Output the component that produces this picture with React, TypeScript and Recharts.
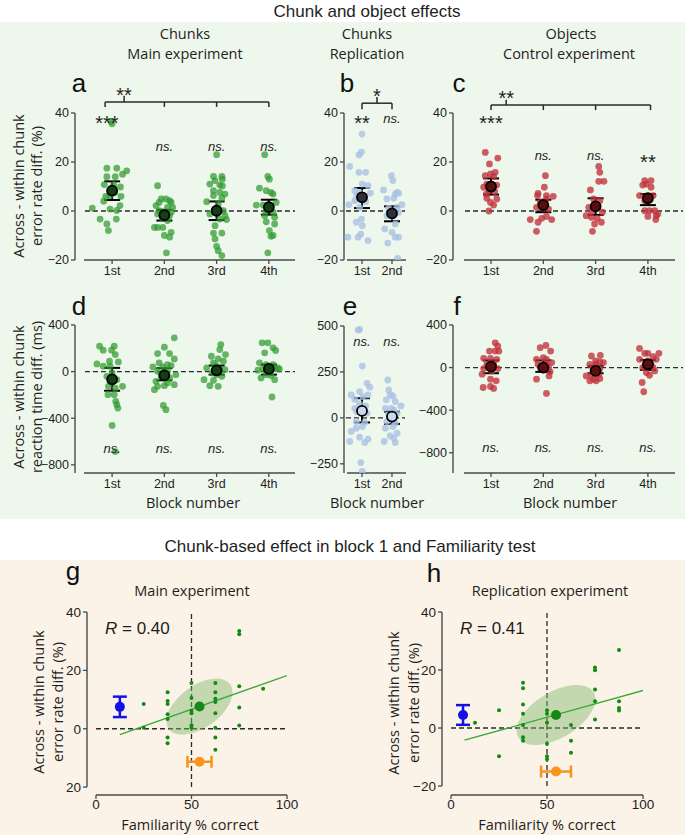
import React from 'react';
import { ScatterChart, Scatter, XAxis, YAxis, ReferenceLine, ErrorBar } from 'recharts';

type P = [number, number];
type Note = { x: number; y: number; text: string };

// ---------- categories ----------
const blocks4 = ['1st', '2nd', '3rd', '4th'];
const blocks2 = ['1st', '2nd'];

// ---------- panel a : error rate, chunks main (jitter, value) ----------
const a1: P[] = [[-0.02,36.5],[0.0,35.6],[-0.38,1.2],[-0.1,17.5],[0.09,17.5],[0.28,16.4],[0.2,15.0],[-0.1,14.0],[0.06,14.0],[-0.15,10.8],[0.03,10.8],[0.16,9.8],[-0.04,8.2],[0.05,7.6],[-0.04,6.2],[-0.12,6.0],[0.17,6.0],[-0.16,4.0],[0.15,2.2],[-0.04,0.8],[0.09,0.2],[-0.23,-3.3],[0.08,-3.3],[-0.1,-5.3],[-0.07,-8.0]];
const a2: P[] = [[-0.13,10.3],[-0.06,4.9],[0.03,4.9],[0.1,4.2],[-0.1,3.5],[0.13,3.5],[-0.16,2.2],[0.06,1.5],[-0.1,0.1],[0,-0.5],[-0.13,-1.2],[0.1,-1.9],[0.13,-0.5],[-0.03,-3.0],[0.06,-3.9],[-0.13,-6.7],[-0.03,-6.7],[0.13,-8.7],[0,-10.0],[0.1,-10.7],[0.04,-17.1],[-0.19,-6.7],[0.16,1.5]];
const a3: P[] = [[0,23.0],[-0.06,14.1],[0.1,14.1],[0.11,13.0],[-0.03,12.4],[-0.13,11.0],[0.06,10.6],[0.11,10.2],[-0.06,8.3],[0.06,7.6],[0.16,6.9],[-0.06,6.3],[0.1,5.2],[-0.19,3.8],[0.03,2.9],[-0.03,0.8],[0.13,0.1],[-0.13,-1.2],[0.16,-1.9],[0.06,-3.3],[0.19,-3.5],[-0.03,-6.0],[-0.06,-9.0],[0.1,-9.0],[-0.03,-11.4],[0,-14.4],[0.03,-16.2],[0.1,-18.2],[0,-21]];
const a4: P[] = [[-0.08,23.0],[-0.02,14.1],[0.01,13.0],[-0.18,9.3],[-0.05,8.3],[0.04,7.6],[0.08,6.9],[-0.24,2.4],[-0.11,2.4],[-0.02,1.5],[0.04,2.2],[0.14,3.5],[-0.05,0.1],[0.08,-0.5],[-0.08,-1.9],[0.11,-2.6],[-0.05,-4.4],[0.11,-5.3],[0.01,-8.0],[0.08,-10.0],[0.04,-10.3],[-0.02,-17.1]];
const aMean = [8.3, -1.7, 0.1, 1.6];
const aLo = [4.5, -3.9, -3.7, -1.5];
const aHi = [12.1, 0.5, 3.9, 4.6];
const aNotes: Note[] = [{x:0.9,y:37.6,text:'***'},{x:1.23,y:49.1,text:'**'},{x:2,y:26.4,text:'ns.'},{x:3,y:26.4,text:'ns.'},{x:4,y:26.4,text:'ns.'}];
const aBrackets: number[][] = [[0.866,44.5,4,44.5],[0.866,44.5,0.866,42.5],[2,44.5,2,42.5],[3,44.5,3,42.5],[4,44.5,4,42.5],[1.23,44.5,1.23,47]];

// ---------- panel b : error rate, chunks replication ----------
const b1: P[] = [[0,31.4],[-0.02,24.0],[-0.1,22.9],[-0.41,18.2],[-0.1,15.8],[0.12,15.8],[0.01,11.0],[0.2,10.3],[-0.24,8.3],[-0.08,7.6],[0.28,7.3],[-0.17,6.3],[0.09,6.0],[-0.24,4.2],[0.12,3.8],[-0.44,2.6],[-0.08,1.5],[-0.02,-3.3],[-0.19,-4.6],[0.01,-6.0],[-0.47,-10.7],[-0.13,-10.7],[0.2,-12.1],[-0.04,-9.4]];
const b2: P[] = [[-0.02,14.4],[0.03,12.4],[0.17,7.6],[0.22,7.2],[0.11,6.9],[-0.28,8.6],[-0.17,4.9],[0.06,5.2],[0.33,2.6],[-0.11,1.1],[0.17,1.5],[0.22,-0.5],[-0.17,-1.9],[0.03,-2.2],[0.11,-5.3],[-0.24,-7.3],[0,-8.7],[0.11,-10.7],[0.22,-10.7],[-0.14,-13.1],[0.19,-19.3]];
const bMean = [5.6, -1.0];
const bLo = [1.2, -4.2];
const bHi = [9.4, 1.9];
const bNotes: Note[] = [{x:1,y:37.6,text:'**'},{x:2,y:37.6,text:'ns.'},{x:1.5,y:48.6,text:'*'}];
const bBrackets: number[][] = [[1,44,2,44],[1,44,1,41.5],[2,44,2,41.5],[1.5,44,1.5,46.5]];

// ---------- panel c : error rate, objects control ----------
const c1: P[] = [[-0.11,23.9],[0.13,21.6],[-0.03,19.2],[0.08,15.8],[-0.01,15.1],[-0.11,14.4],[0.05,14.1],[-0.08,11.0],[0.11,10.6],[-0.14,9.7],[0.02,9.0],[-0.04,8.3],[0.07,7.9],[-0.09,6.9],[0.11,4.9],[-0.08,5.2],[-0.01,3.5],[0.05,2.4],[-0.04,0.0]];
const c2: P[] = [[0.04,14.4],[0.02,9.7],[-0.1,7.2],[0.06,6.3],[-0.11,6.3],[0.19,6.0],[0.06,4.9],[-0.06,3.5],[0.03,2.4],[-0.13,1.5],[0,1.1],[0.1,0.8],[-0.25,-3.5],[-0.03,-3.0],[-0.1,-4.6],[0.06,-2.2],[0.16,-3.5],[-0.13,-8.3]];
const c3: P[] = [[0.06,18.2],[0.08,15.8],[0.06,12.1],[0.16,12.1],[-0.1,8.6],[-0.04,4.9],[0.08,4.2],[0.01,2.2],[-0.13,1.5],[0.13,-0.5],[-0.08,-0.3],[-0.18,-1.9],[-0.08,-2.6],[0.03,-3.0],[0.11,-4.6],[-0.02,-5.3],[-0.06,-8.3]];
const c4: P[] = [[-0.06,12.4],[0.06,12.4],[-0.03,11.0],[-0.1,10.6],[0.06,9.7],[-0.16,6.3],[-0.03,5.2],[0.1,6.3],[-0.06,4.2],[0,4.9],[0.13,0.1],[0.03,0.1],[-0.06,0.1],[0.19,-1.2],[0.16,-1.9],[0,-2.2],[0.15,-3.5]];
const cMean = [10.0, 2.4, 1.9, 5.2];
const cLo = [6.7, -0.5, -1.6, 2.4];
const cHi = [13.3, 4.6, 5.2, 6.9];
const cNotes: Note[] = [{x:1,y:37.6,text:'***'},{x:1.29,y:47.8,text:'**'},{x:2,y:22.6,text:'ns.'},{x:3,y:22.6,text:'ns.'},{x:4,y:22,text:'**'}];
const cBrackets: number[][] = [[1,43.3,4.05,43.3],[1,43.3,1,41.2],[2,43.3,2,41.2],[3,43.3,3,41.2],[4.05,43.3,4.05,41.2],[1.29,43.3,1.29,45.4]];

// ---------- panel d : reaction time, chunks main ----------
const d1: P[] = [[-0.24,218],[0.04,218],[-0.17,184],[-0.01,184],[0.06,146],[-0.29,66],[-0.17,46],[-0.04,46],[0.12,83],[-0.05,89],[0,-11],[-0.1,-40],[0.09,-69],[0.03,-83],[-0.07,-126],[0.06,-141],[0.2,-126],[-0.08,-198],[0.04,-198],[0.07,-255],[0.09,-284],[0.11,-313],[0,-462],[0.06,-686]];
const d2: P[] = [[0.19,290],[0,210],[-0.13,155],[0.1,155],[0.19,109],[-0.1,75],[0.06,60],[-0.22,40],[-0.03,40],[0.13,52],[-0.13,3],[0.06,3],[0.22,-26],[-0.06,-40],[0.1,-55],[-0.16,-83],[0.06,-98],[0.19,-112],[-0.13,-126],[0,-121],[-0.19,-155],[-0.02,-290],[0.03,-327]];
const d3: P[] = [[0.08,232],[0.06,189],[0.17,146],[-0.1,132],[0.03,109],[0.13,89],[-0.06,75],[-0.01,52],[-0.19,32],[0.06,23],[0.16,17],[-0.08,-11],[0,-26],[0.1,-40],[-0.24,-69],[-0.06,-75],[-0.13,-121],[0.03,-126]];
const d4: P[] = [[-0.13,247],[-0.02,247],[0.08,204],[0.13,181],[-0.08,161],[-0.18,75],[-0.05,60],[0.08,60],[0.17,32],[-0.21,12],[-0.11,23],[0.01,3],[0.11,23],[-0.05,-26],[0.04,-34],[0.2,23],[-0.15,-55],[0.11,-69],[0.06,-218]];
const dMean = [-66, -32, 11, 23];
const dLo = [-164, -75, -26, -26];
const dHi = [32, 29, 52, 60];
const dNotes: Note[] = [1,2,3,4].map((x) => ({ x, y: -665, text: 'ns.' }));

// ---------- panel e : reaction time, chunks replication ----------
const e1: P[] = [[-0.13,478],[-0.08,481],[0.01,282],[0.17,188],[0.26,167],[-0.08,143],[-0.36,125],[0.2,125],[-0.24,101],[0.03,116],[-0.08,76],[0.12,65],[-0.24,52],[-0.17,34],[0.17,25],[-0.19,-20],[0.09,-25],[0.01,-47],[-0.19,-56],[-0.36,-74],[0.2,-116],[-0.08,-105],[-0.41,-128],[0.09,-134],[-0.04,-243],[0.01,-291]];
const e2: P[] = [[-0.14,206],[-0.11,152],[-0.06,125],[0.03,119],[-0.19,98],[0.11,89],[0.3,65],[-0.22,52],[0.06,43],[-0.03,52],[0.17,25],[-0.11,16],[-0.17,-20],[0.11,-29],[0.03,-47],[-0.22,-56],[0.17,-83],[-0.06,-98],[0.06,-110],[-0.26,-128],[0.11,-134]];
const eMean = [38, 7];
const eLo = [-25, -33];
const eHi = [107, 34];
const eNotes: Note[] = [1,2].map((x) => ({ x, y: 415, text: 'ns.' }));

// ---------- panel f : reaction time, objects control ----------
const f1: P[] = [[0.08,233],[0.13,202],[-0.03,155],[0.08,155],[0.15,155],[-0.14,87],[-0.01,87],[0.11,78],[-0.08,31],[0.05,31],[-0.03,9],[-0.14,-9],[0.13,-9],[0.02,-31],[-0.17,-62],[-0.01,-109],[0.1,-124],[-0.15,-187],[-0.01,-177],[0.05,-196]];
const f2: P[] = [[0.05,208],[-0.06,187],[0.14,155],[0,93],[-0.13,78],[0.06,78],[-0.1,31],[0.06,31],[0.16,47],[-0.06,9],[0.1,0],[0,-22],[0.13,-40],[-0.13,-109],[0.11,-78],[0.06,-243]];
const f3: P[] = [[-0.08,109],[0.09,115],[0,62],[0.08,53],[-0.11,31],[0.01,31],[0.15,47],[-0.05,0],[0.08,-9],[-0.18,-78],[-0.08,-72],[0.06,-62],[-0.04,-109],[0.08,-103],[-0.11,-124],[0.01,-124]];
const f4: P[] = [[-0.16,180],[0,134],[-0.06,134],[0.21,134],[0.1,103],[-0.16,78],[0,62],[0.16,78],[0.06,31],[-0.03,22],[-0.1,0],[0.1,0],[0.13,-31],[-0.03,-47],[0.03,-72],[-0.11,-140],[-0.08,-227]];
const fMean = [9, 0, -31, 31];
const fLo = [-53, -40, -53, -22];
const fHi = [68, 68, 16, 72];
const fNotes: Note[] = [1,2,3,4].map((x) => ({ x, y: -754, text: 'ns.' }));

// ---------- panel g : familiarity vs chunk effect, main ----------
const gPoints: P[] = [[25,8.5],[25,0.3],[37.5,12.5],[37.5,9.5],[37.5,8.5],[37.5,5],[37.5,3.3],[37.5,-3],[37.5,-5],[50,15.7],[50,10.5],[50,6.2],[50,5.3],[50,1.2],[50,0.3],[62.5,15.7],[62.5,12.5],[62.5,10.3],[62.5,9.2],[62.5,5.3],[62.5,0.3],[62.5,-3],[62.5,-7.2],[75,33.5],[75,32.4],[75,14.6],[75,7.3],[75,1.1],[87.5,13.7]];
const gMean: P = [54.2, 7.6];
const gFit: P[] = [[12.5, -2.0], [100, 18.2]];
const gChunkMean = { x: 12.5, y: 7.5, err: 3.5 };
const gFamMean = { x: 54.2, y: -11.3, err: 6.3 };
const gYTicks = [-20, 0, 20, 40];
const gYTickLabels = ['20', '0', '20', '40'];
const gR = '0.40';

// ---------- panel h : familiarity vs chunk effect, replication ----------
const hPoints: P[] = [[12.5,1.8],[25,6.1],[25,-9.7],[37.5,15.6],[37.5,13.7],[37.5,8.1],[37.5,4.9],[37.5,1.0],[37.5,-3.2],[37.5,-4.4],[50,6.1],[50,4.9],[50,1.8],[50,-5.4],[50,-9.7],[50,-10.8],[62.5,1.0],[62.5,-4.4],[62.5,-8.5],[75,20.9],[75,19.9],[75,13.3],[75,9.2],[75,2.9],[87.5,26.9],[87.5,9.2],[87.5,6.9],[87.5,6.0]];
const hMean: P = [54.7, 4.5];
const hFit: P[] = [[7, -4.2], [101, 13.1]];
const hChunkMean = { x: 6.25, y: 4.5, err: 3.4 };
const hFamMean = { x: 54.7, y: -15, err: 7.8 };
const hYTicks = [-20, 0, 20, 40];
const hYTickLabels = ['\u221220', '0', '20', '40'];
const hR = '0.41';

const xTicksFam = [0, 50, 100];

// ---------- styling ----------
const ARIAL = '"Liberation Sans", Arial, Helvetica, sans-serif';
const SANS = '"Open Sans", "Noto Sans", sans-serif';
const AXIS = '#4a4a4a';
const INK = '#1e1e1e';
const minus = (v: number) => String(v).replace('-', '\u2212');

interface StripCfg {
  box: number[];
  plot: number[];
  xDomain: [number, number];
  yDomain: [number, number];
  yTicks: number[];
  yAxisTop: number;
  xAxis: [number, number];
  dash: [number, number];
  cats: string[];
  groups: P[][];
  means: number[];
  lo: number[];
  hi: number[];
  dot: string;
  dotOpacity: number;
  meanFill: string;
  notes: Note[];
  brackets: number[][];
}

const NoteShape = (p: any) => {
  const t: string = p.payload.text;
  const star = t.includes('*');
  return (
    <text x={p.cx} y={p.cy + (star ? 11.5 : 4.3)} textAnchor="middle" fontSize={star ? 20 : 13}
      fontStyle={star ? 'normal' : 'italic'} fontFamily={ARIAL} fill={INK}>{t}</text>
  );
};

function StripPanel({ c }: { c: StripCfg }) {
  const [bx0, by0, bx1, by1] = c.box;
  const [px0, py0, px1, py1] = c.plot;
  const xh = 22;
  const pts = c.groups.flatMap((g, i) => g.map(([j, v]) => ({ x: i + 1 + j, y: v })));
  const md = c.means.map((m, i) => ({ x: i + 1, y: m, err: [m - c.lo[i], c.hi[i] - m] }));
  const dotShape = (p: any) => <circle cx={p.cx} cy={p.cy} r={3.4} fill={c.dot} fillOpacity={c.dotOpacity} />;
  const meanShape = (p: any) => <circle cx={p.cx} cy={p.cy} r={5} fill={c.meanFill} stroke="#000" strokeWidth={1.8} />;
  return (
    <div style={{ position: 'absolute', left: bx0, top: by0 }}>
      <ScatterChart width={bx1 - bx0} height={by1 - by0}
        margin={{ top: py0 - by0, right: bx1 - px1, bottom: by1 - py1 - xh, left: 0 }}>
        <XAxis type="number" dataKey="x" domain={c.xDomain} allowDataOverflow
          ticks={c.cats.map((_, i) => i + 1)} interval={0} tickFormatter={(v: number) => c.cats[Math.round(v) - 1]}
          axisLine={false} tickLine={{ stroke: AXIS, strokeWidth: 1.3 }} tickSize={4} height={xh}
          tick={{ fill: INK, fontSize: 12.5, fontFamily: ARIAL }} />
        <YAxis type="number" dataKey="y" domain={c.yDomain} allowDataOverflow ticks={c.yTicks} interval={0}
          tickFormatter={minus} axisLine={false} tickLine={{ stroke: AXIS, strokeWidth: 1.3 }} tickSize={4}
          width={px0 - bx0} tick={{ fill: INK, fontSize: 12.5, fontFamily: ARIAL }} />
        <ReferenceLine ifOverflow="visible" stroke={AXIS} strokeWidth={1.4}
          segment={[{ x: c.xDomain[0], y: c.yDomain[0] }, { x: c.xDomain[0], y: c.yAxisTop }]} />
        <ReferenceLine ifOverflow="visible" stroke={AXIS} strokeWidth={1.4}
          segment={[{ x: c.xAxis[0], y: c.yDomain[0] }, { x: c.xAxis[1], y: c.yDomain[0] }]} />
        <ReferenceLine ifOverflow="visible" stroke="#2a2a2a" strokeWidth={1.4} strokeDasharray="5 3"
          segment={[{ x: c.dash[0], y: 0 }, { x: c.dash[1], y: 0 }]} />
        {c.brackets.map((b, i) => (
          <ReferenceLine key={'br' + i} ifOverflow="visible" stroke="#2a2a2a" strokeWidth={1.5}
            segment={[{ x: b[0], y: b[1] }, { x: b[2], y: b[3] }]} />
        ))}
        <Scatter data={pts} shape={dotShape} isAnimationActive={false} />
        <Scatter data={md} shape={meanShape} isAnimationActive={false}>
          <ErrorBar dataKey="err" direction="y" width={8} stroke="#000" strokeWidth={2} />
        </Scatter>
        <Scatter data={c.notes} shape={NoteShape} isAnimationActive={false} />
      </ScatterChart>
    </div>
  );
}

interface FamCfg {
  box: number[];
  plot: number[];
  xDomain: [number, number];
  yDomain: [number, number];
  yTicks: number[];
  yTickLabels: string[];
  points: P[];
  mean: P;
  fit: P[];
  chunk: { x: number; y: number; err: number };
  fam: { x: number; y: number; err: number };
  ell: [number, number, number];
}

function FamPanel({ c }: { c: FamCfg }) {
  const [bx0, by0, bx1, by1] = c.box;
  const [px0, py0, px1, py1] = c.plot;
  const xh = 20;
  const pts = c.points.map(([x, y]) => ({ x, y }));
  const [rx, ry, ang] = c.ell;
  const ellShape = (p: any) => (
    <ellipse cx={p.cx} cy={p.cy} rx={rx} ry={ry} transform={`rotate(${ang} ${p.cx} ${p.cy})`} fill="#7fb86a" fillOpacity={0.45} />
  );
  const none = () => <g />;
  const small = (p: any) => <circle cx={p.cx} cy={p.cy} r={2} fill="#138a13" />;
  const big = (col: string) => (p: any) => <circle cx={p.cx} cy={p.cy} r={5} fill={col} />;
  const tickLbl = (v: number) => c.yTickLabels[c.yTicks.indexOf(v)] ?? String(v);
  return (
    <div style={{ position: 'absolute', left: bx0, top: by0 }}>
      <ScatterChart width={bx1 - bx0} height={by1 - by0}
        margin={{ top: py0 - by0, right: bx1 - px1, bottom: by1 - py1 - xh, left: 0 }}>
        <XAxis type="number" dataKey="x" domain={c.xDomain} allowDataOverflow ticks={xTicksFam} interval={0}
          axisLine={false} tickLine={{ stroke: AXIS, strokeWidth: 1.3 }} tickSize={4} tickMargin={0} height={xh}
          tick={{ fill: INK, fontSize: 13.5, fontFamily: ARIAL }} />
        <YAxis type="number" dataKey="y" domain={c.yDomain} allowDataOverflow ticks={c.yTicks} interval={0}
          tickFormatter={tickLbl} axisLine={false} tickLine={{ stroke: AXIS, strokeWidth: 1.3 }} tickSize={4}
          width={px0 - bx0} tick={{ fill: INK, fontSize: 13.5, fontFamily: ARIAL }} />
        <ReferenceLine ifOverflow="visible" stroke={AXIS} strokeWidth={1.4}
          segment={[{ x: c.xDomain[0], y: -20 }, { x: c.xDomain[0], y: 40 }]} />
        <ReferenceLine ifOverflow="visible" stroke={AXIS} strokeWidth={1.4}
          segment={[{ x: 0, y: c.yDomain[0] }, { x: 100, y: c.yDomain[0] }]} />
        <ReferenceLine ifOverflow="visible" stroke="#2a2a2a" strokeWidth={1.3} strokeDasharray="5 3"
          segment={[{ x: 50, y: -20 }, { x: 50, y: 40 }]} />
        <ReferenceLine ifOverflow="visible" stroke="#2a2a2a" strokeWidth={1.3} strokeDasharray="5 3"
          segment={[{ x: 0, y: 0 }, { x: 100, y: 0 }]} />
        <Scatter data={[{ x: c.mean[0], y: c.mean[1] }]} shape={ellShape} isAnimationActive={false} />
        <Scatter data={c.fit.map(([x, y]) => ({ x, y }))} shape={none} line={{ stroke: '#3aa83a', strokeWidth: 1.3 }} isAnimationActive={false} />
        <Scatter data={pts} shape={small} isAnimationActive={false} />
        <Scatter data={[{ x: c.mean[0], y: c.mean[1] }]} shape={big('#138a13')} isAnimationActive={false} />
        <Scatter data={[c.chunk]} shape={big('#1212e6')} isAnimationActive={false}>
          <ErrorBar dataKey="err" direction="y" width={7} stroke="#1212e6" strokeWidth={2.5} />
        </Scatter>
        <Scatter data={[c.fam]} shape={big('#f7931e')} isAnimationActive={false}>
          <ErrorBar dataKey="err" direction="x" width={6} stroke="#f7931e" strokeWidth={2.5} />
        </Scatter>
      </ScatterChart>
    </div>
  );
}

const panelA: StripCfg = {
  box: [35, 78, 300, 290], plot: [75, 83.6, 295, 260], xDomain: [0.29, 4.5], yDomain: [-20, 52],
  yTicks: [-20, 0, 20, 40], yAxisTop: 40, xAxis: [0.462, 4.5], dash: [0.48, 4.5], cats: blocks4,
  groups: [a1, a2, a3, a4], means: aMean, lo: aLo, hi: aHi, dot: '#2f9a2f', dotOpacity: 0.72,
  meanFill: '#143f14', notes: aNotes, brackets: aBrackets,
};
const panelB: StripCfg = {
  box: [305, 78, 412, 290], plot: [344, 83.6, 406, 260], xDomain: [0.4, 2.467], yDomain: [-20, 52],
  yTicks: [-20, 0, 20, 40], yAxisTop: 40, xAxis: [0.5, 2.467], dash: [0.467, 2.433], cats: blocks2,
  groups: [b1, b2], means: bMean, lo: bLo, hi: bHi, dot: '#a9c2e3', dotOpacity: 0.78,
  meanFill: '#2e3238', notes: bNotes, brackets: bBrackets,
};
const panelC: StripCfg = {
  box: [413, 78, 685, 290], plot: [453, 83.6, 683, 260], xDomain: [0.273, 4.671], yDomain: [-20, 52],
  yTicks: [-20, 0, 20, 40], yAxisTop: 40, xAxis: [0.483, 4.518], dash: [0.503, 4.671], cats: blocks4,
  groups: [c1, c2, c3, c4], means: cMean, lo: cLo, hi: cHi, dot: '#c2323b', dotOpacity: 0.78,
  meanFill: '#5a0e0e', notes: cNotes, brackets: cBrackets,
};
const panelD: StripCfg = {
  box: [35, 320, 300, 495], plot: [75, 325, 295, 473], xDomain: [0.29, 4.5], yDomain: [-870, 400],
  yTicks: [-800, -400, 0, 400], yAxisTop: 400, xAxis: [0.462, 4.5], dash: [0.48, 4.5], cats: blocks4,
  groups: [d1, d2, d3, d4], means: dMean, lo: dLo, hi: dHi, dot: '#2f9a2f', dotOpacity: 0.72,
  meanFill: '#143f14', notes: dNotes, brackets: [],
};
const panelE: StripCfg = {
  box: [305, 320, 412, 495], plot: [344, 326, 406, 473], xDomain: [0.4, 2.467], yDomain: [-300, 500],
  yTicks: [-250, 0, 250, 500], yAxisTop: 500, xAxis: [0.5, 2.467], dash: [0.467, 2.433], cats: blocks2,
  groups: [e1, e2], means: eMean, lo: eLo, hi: eHi, dot: '#a9c2e3', dotOpacity: 0.78,
  meanFill: '#c9d8ec', notes: eNotes, brackets: [],
};
const panelF: StripCfg = {
  box: [413, 320, 685, 495], plot: [453, 325, 683, 473], xDomain: [0.273, 4.671], yDomain: [-990, 400],
  yTicks: [-800, -400, 0, 400], yAxisTop: 400, xAxis: [0.483, 4.518], dash: [0.503, 4.671], cats: blocks4,
  groups: [f1, f2, f3, f4], means: fMean, lo: fLo, hi: fHi, dot: '#c2323b', dotOpacity: 0.78,
  meanFill: '#5a0e0e', notes: fNotes, brackets: [],
};
const panelG: FamCfg = {
  box: [45, 605, 300, 830], plot: [87, 612, 287, 795], xDomain: [-4.7, 100], yDomain: [-22.7, 40],
  yTicks: gYTicks, yTickLabels: gYTickLabels, points: gPoints, mean: gMean, fit: gFit,
  chunk: gChunkMean, fam: gFamMean, ell: [38, 21, -36],
};
const panelH: FamCfg = {
  box: [400, 605, 660, 830], plot: [442, 612, 643, 795], xDomain: [-4.7, 100], yDomain: [-23.1, 40],
  yTicks: hYTicks, yTickLabels: hYTickLabels, points: hPoints, mean: hMean, fit: hFit,
  chunk: hChunkMean, fam: hFamMean, ell: [44, 23, -31],
};

function VText({ x, y, children, size = 14.5 }: { x: number; y: number; children: React.ReactNode; size?: number }) {
  return (
    <text transform={`translate(${x},${y}) rotate(-90)`} textAnchor="middle" dominantBaseline="central"
      fontSize={size} fontFamily={SANS} fill={INK}>{children}</text>
  );
}

function Overlay() {
  const T = (x: number, y: number, s: string, size = 14.5, fam = SANS) => (
    <text x={x} y={y} textAnchor="middle" dominantBaseline="central" fontSize={size} fontFamily={fam} fill={INK}>{s}</text>
  );
  const L = (x: number, y: number, s: string) => (
    <text x={x} y={y} textAnchor="middle" fontSize={26} fontFamily={ARIAL} fill="#111">{s}</text>
  );
  return (
    <svg width={685} height={835} style={{ position: 'absolute', left: 0, top: 0, pointerEvents: 'none' }}>
      {T(367, 11, 'Chunk and object effects', 17, ARIAL)}
      {T(185, 33, 'Chunks')}
      {T(185, 53, 'Main experiment')}
      {T(367, 33, 'Chunks')}
      {T(367, 53, 'Replication')}
      {T(571, 33, 'Objects')}
      {T(569, 53, 'Control experiment')}
      {L(79, 92, 'a')}
      {L(347, 92, 'b')}
      {L(459, 92, 'c')}
      {L(79, 315, 'd')}
      {L(350, 315, 'e')}
      {L(457, 315, 'f')}
      <VText x={18} y={186}>Across - within chunk</VText>
      <VText x={36} y={186}>error rate diff. (%)</VText>
      <VText x={18} y={397}>Across - within chunk</VText>
      <VText x={36} y={397}>reaction time diff. (ms)</VText>
      {T(193, 502, 'Block number')}
      {T(377, 502, 'Block number')}
      {T(570, 502, 'Block number')}
      {T(350, 546, 'Chunk-based effect in block 1 and Familiarity test', 17, ARIAL)}
      {L(73, 580, 'g')}
      {L(434, 582, 'h')}
      {T(192, 590, 'Main experiment')}
      {T(550, 590, 'Replication experiment')}
      <VText x={38} y={702}>Across - within chunk</VText>
      <VText x={57} y={702}>error rate diff. (%)</VText>
      <VText x={393} y={703}>Across - within chunk</VText>
      <VText x={413} y={703}>error rate diff. (%)</VText>
      <text x={105} y={634} fontSize={17} fontFamily={ARIAL} fill={INK}><tspan fontStyle="italic">R</tspan> = {gR}</text>
      <text x={460} y={634} fontSize={17} fontFamily={ARIAL} fill={INK}><tspan fontStyle="italic">R</tspan> = {hR}</text>
      {T(190, 824, 'Familiarity % correct')}
      {T(547, 824, 'Familiarity % correct')}
    </svg>
  );
}

export default function App() {
  return (
    <div style={{ position: 'absolute', left: 0, top: 0, width: 685, height: 835, background: '#ffffff', overflow: 'hidden' }}>
      <style>{'.recharts-surface{overflow:visible}'}</style>
      <div style={{ position: 'absolute', left: 0, top: 22, width: 685, height: 497, background: '#eef7ec' }} />
      <div style={{ position: 'absolute', left: 0, top: 560, width: 685, height: 275, background: '#fcf3e8' }} />
      <StripPanel c={panelA} />
      <StripPanel c={panelB} />
      <StripPanel c={panelC} />
      <StripPanel c={panelD} />
      <StripPanel c={panelE} />
      <StripPanel c={panelF} />
      <FamPanel c={panelG} />
      <FamPanel c={panelH} />
      <Overlay />
    </div>
  );
}
